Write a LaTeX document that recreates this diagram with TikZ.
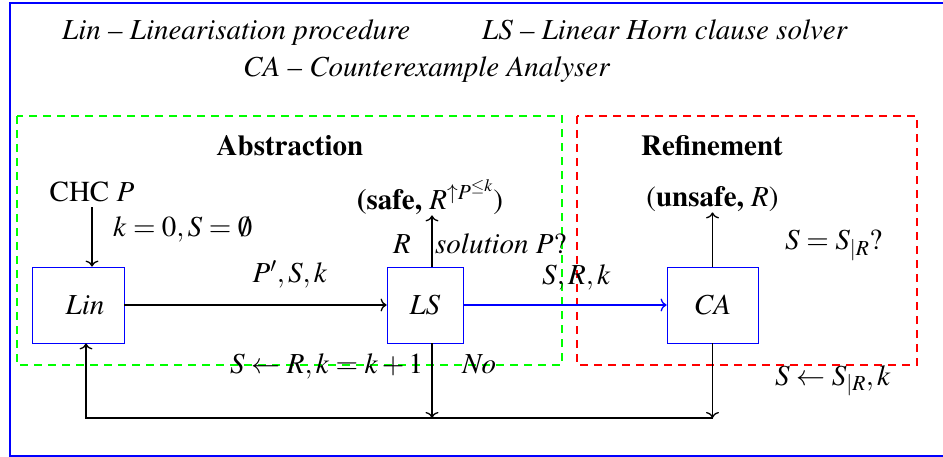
\documentclass[tikz,border=0pt]{standalone}
\usepackage[T1]{fontenc}
\usepackage{mathptmx}
\usetikzlibrary{arrows.meta}
\begin{document}
\begin{tikzpicture}[x=1pt,y=-1pt,
  font=\fontsize{29}{34}\selectfont,
  >={To[length=6pt,width=13pt]},
  txt/.style={inner sep=0pt},
  box/.style={draw=blue, line width=0.8pt, fill=white, minimum height=76pt, inner sep=0pt},
  conn/.style={line width=1.3pt},
  region/.style={line width=1.5pt, dash pattern=on 8pt off 6pt}]
\useasboundingbox (0,0) rectangle (943,457);
% outer frame (right side lies outside the picture)
\draw[blue, line width=2pt] (960,3) -- (10,3) -- (10,456) -- (960,456);
% regions
\draw[green, region] (17,116) rectangle (562,365);
\draw[red, region] (577,116) rectangle (917,365);
% legend
\node[txt, anchor=base west] (t1) at (62,40) {\textit{Lin -- Linearisation procedure}};
\node[txt, anchor=base west] (t2) at (482,40) {\textit{LS -- Linear Horn clause solver}};
\node[txt, anchor=base west] (t3) at (243,77) {\textit{CA -- Counterexample Analyser}};
% region titles
\node[txt, anchor=base] (abs) at (290,156) {\textbf{Abstraction}};
\node[txt, anchor=base] (ref) at (712,156) {\textbf{Refinement}};
% boxes
\node[box, minimum width=92pt] (lin) at (78,305) {\hspace*{14pt}\textit{Lin}};
\node[box, minimum width=76pt] (ls) at (425,305) {\textit{LS}};
\node[box, minimum width=91pt] (ca) at (712.5,305) {\textit{CA}};
% input
\node[txt, anchor=base] (chc) at (92,202) {CHC $P$};
\draw[conn,->, shorten <=5pt] (chc.south) -- (chc.south |- lin.north);
\node[txt, anchor=base west] (k0) at (113,237) {$k=0,S=\emptyset$};
% main flow
\draw[conn,->] (lin) -- (ls);
\node[txt, anchor=base] (psk) at (290,283) {$P',S,k$};
\draw[conn,->,blue] (ls) -- (ca);
\node[txt, anchor=base west] (srk) at (542,285) {$S,R,k$};
% outputs
\node[txt, anchor=base] (safe) at (430,210) {\textbf{(safe,} $R^{\uparrow P^{\leq k}}$)};
\draw[conn,->] ([xshift=7pt]ls.north) -- ([xshift=7pt]ls.north |- safe.south);
\node[txt, anchor=base west] (rlab) at (393,254) {$R$};
\node[txt, anchor=base west] (sol) at (435,254) {\textit{solution} $P?$};
\node[txt, anchor=base] (unsafe) at (712.5,207) {(\textbf{unsafe,} $R$)};
\draw[conn,->] (ca.north) -- (unsafe.south);
\node[txt, anchor=base west] (eq) at (785,250) {$S=S_{|R}?$};
% feedback
\coordinate (bl) at (86,418);
\draw[conn,->] (ca.south) -- (ca.south |- bl);
\draw[conn,->] ([xshift=7pt]ls.south) -- ([xshift=7pt]ls.south |- bl);
\draw[conn,->] (ca.south |- bl) -- (bl) -- (bl |- lin.south);
\node[txt, anchor=base west] (upd) at (230,373) {$S\leftarrow R,k=k+1$};
\node[txt, anchor=base west] (no) at (462,373) {\textit{No}};
\node[txt, anchor=base west] (upd2) at (775,385) {$S\leftarrow S_{|R},k$};
\end{tikzpicture}
\end{document}
